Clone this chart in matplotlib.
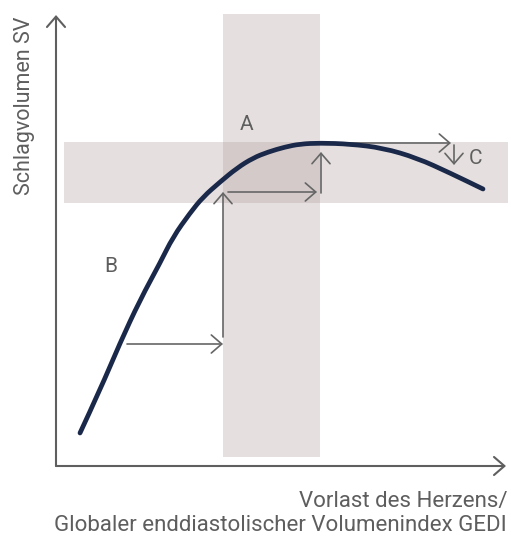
import matplotlib
matplotlib.use("Agg")
import matplotlib.pyplot as plt
from matplotlib.patches import Rectangle, PathPatch
from matplotlib.path import Path

plt.rcParams['font.family'] = ['Roboto', 'DejaVu Sans']

# Frank-Starling curve (arbitrary units)
curve_x = [24, 44, 64, 84, 104, 117, 134, 147, 164, 181, 197, 212, 229, 244,
           264, 294, 327, 361, 394, 427]
curve_y = [33, 76, 123, 166, 203, 229, 253, 269, 284, 298, 308, 314, 319, 322,
           323, 322, 318, 308, 293, 277]

# shaded bands: (x0, x1, y0, y1)
band_vertical = [167, 264, 9, 452]
band_horizontal = [8, 452, 263, 324]

# step arrows: (start_x, start_y, end_x, end_y)
arrows = [
    (71, 122, 167, 122),
    (167, 129, 167, 274),
    (172, 274, 261, 274),
    (265, 273, 265, 314),
    (264, 323, 395, 323),
    (398, 321, 398, 301),
]

labels = ["A", "B", "C"]
label_x = [191, 55, 419]
label_y = [342, 199, 308]

xlabel = "Vorlast des Herzens/\nGlobaler enddiastolischer Volumenindex GEDI"
ylabel = "Schlagvolumen SV"

text_color = "#5e5e5e"
line_grey = "#666666"
band_color = "#b19e9e"
curve_color = "#1a2849"

fig = plt.figure(figsize=(5.11, 5.36), dpi=100)
ax = fig.add_axes([56 / 511, 70 / 536, 450 / 511, 451 / 536])
ax.set_xlim(0, 450)
ax.set_ylim(0, 451)
ax.axis("off")

for x0, x1, y0, y1 in (band_vertical, band_horizontal):
    ax.add_patch(Rectangle((x0, y0), x1 - x0, y1 - y0, facecolor=band_color,
                           alpha=0.32, edgecolor="none", clip_on=False, zorder=1))

# axes with open arrow heads
axis_style = dict(arrowstyle="->,head_length=0.75,head_width=0.65", color="#5f5f5f",
                  lw=1.5, shrinkA=0, shrinkB=0, mutation_scale=10)
ax.annotate("", xy=(0, 451), xytext=(0, 0), arrowprops=axis_style,
            annotation_clip=False, zorder=3)
ax.annotate("", xy=(450, 0), xytext=(0, 0), arrowprops=axis_style,
            annotation_clip=False, zorder=3)

step_style = dict(arrowstyle="->,head_length=0.75,head_width=0.65", color=line_grey,
                  lw=1.2, shrinkA=0, shrinkB=0, mutation_scale=10)
for sx, sy, ex, ey in arrows:
    ax.annotate("", xy=(ex, ey), xytext=(sx, sy), arrowprops=step_style,
                annotation_clip=False, zorder=4)

# smooth curve: quadratic bezier through midpoints of the read points
pts = list(zip(curve_x, curve_y))
verts = [pts[0]]
codes = [Path.MOVETO]
for i in range(1, len(pts) - 1):
    mid = ((pts[i][0] + pts[i + 1][0]) / 2, (pts[i][1] + pts[i + 1][1]) / 2)
    verts += [pts[i], mid]
    codes += [Path.CURVE3, Path.CURVE3]
verts.append(pts[-1])
codes.append(Path.LINETO)
ax.add_patch(PathPatch(Path(verts, codes), facecolor="none", edgecolor=curve_color,
                       lw=3.4, capstyle="round", joinstyle="round", zorder=5,
                       clip_on=False))

for lab, lx, ly in zip(labels, label_x, label_y):
    ax.text(lx, ly, lab, fontsize=15, color=text_color, ha="center", va="center",
            zorder=6)

fig.text(507 / 511, 1 - 491 / 536, xlabel, fontsize=16, color=text_color,
         ha="right", va="top", linespacing=1.2)
fig.text(25 / 511, 1 - 106 / 536, ylabel, fontsize=15.5, color=text_color,
         ha="center", va="center", rotation=90)

fig.savefig("out.png", dpi=100)
